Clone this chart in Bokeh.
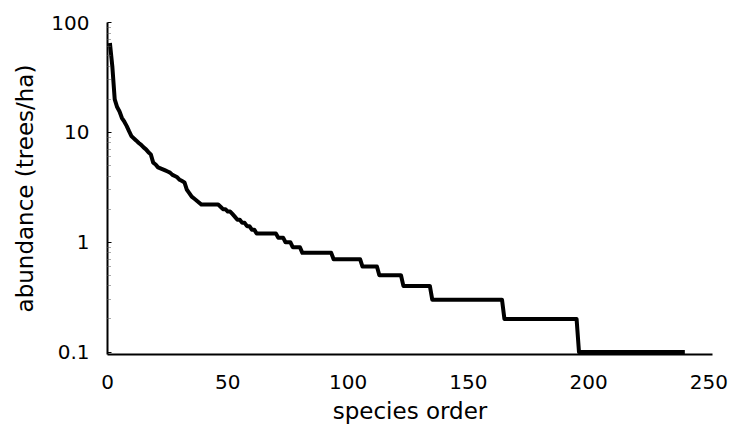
import numpy as np
from bokeh.plotting import figure
from bokeh.models import FixedTicker, CustomJSTickFormatter, Range1d
from bokeh.embed import file_html
from bokeh.resources import INLINE

# Rank-abundance data: runs of tied abundance (trees/ha), by first species rank of each run
run_start = [1, 2, 3, 4, 5, 6, 7, 8, 9, 10, 11, 12, 13, 14, 15, 16, 17, 18, 19, 20,
             21, 22, 23, 24, 25, 26, 27, 28, 29, 30, 31, 32, 33, 34, 35, 36, 37, 38, 39,
             47, 48, 50, 52, 53, 54, 56, 58, 60, 62, 71, 74, 77, 81, 94, 106, 113, 123,
             135, 165, 196]
run_value = [65, 40, 20, 17, 15.5, 13.5, 12.5, 11.4, 10.2, 9.2,
             8.8, 8.4, 8.0, 7.7, 7.3, 7.0, 6.6, 6.3, 5.3, 5.1,
             4.8, 4.7, 4.6, 4.5, 4.4, 4.3, 4.1, 4.0, 3.9, 3.7,
             3.6, 3.5, 3.0, 2.8, 2.6, 2.5, 2.4, 2.3, 2.2,
             2.1, 2.0, 1.9, 1.8, 1.7, 1.6, 1.5, 1.4, 1.3, 1.2,
             1.1, 1.0, 0.9, 0.8, 0.7, 0.6, 0.5, 0.4, 0.3, 0.2, 0.1]
last_rank = 240

x_ticks = [0, 50, 100, 150, 200, 250]
y_ticks = [0.1, 1, 10, 100]
y_minor = [0.2, 0.3, 0.4, 0.5, 0.6, 0.7, 0.8, 0.9, 2, 3, 4, 5, 6, 7, 8, 9,
           20, 30, 40, 50, 60, 70, 80, 90]

# expand runs to one value per species rank
starts = np.array(run_start)
ends = np.append(starts[1:], last_rank + 1)
ranks = np.arange(1, last_rank + 1)
abund = np.repeat(np.array(run_value, dtype=float), ends - starts)

FONT = "DejaVu Sans"

p = figure(width=732, height=437, y_axis_type="log",
           x_range=Range1d(0, 251.5), y_range=Range1d(0.095, 100),
           output_backend="svg", toolbar_location=None,
           min_border_left=107, min_border_right=20,
           min_border_top=22, min_border_bottom=83)
p.outline_line_color = None
p.xgrid.visible = False
p.ygrid.visible = False
p.background_fill_color = "white"
p.border_fill_color = "white"

p.line(ranks, abund, line_color="black", line_width=4, line_join="round")

# x axis
p.xaxis.ticker = FixedTicker(ticks=x_ticks)
p.xaxis.major_tick_in = 0
p.xaxis.major_tick_out = 0
p.xaxis.minor_tick_in = 0
p.xaxis.minor_tick_out = 0
p.xaxis.axis_label = "species order"

# y axis
p.yaxis.ticker = FixedTicker(ticks=y_ticks, minor_ticks=y_minor)
p.yaxis.formatter = CustomJSTickFormatter(code="return String(tick);")
p.yaxis.major_tick_in = 4
p.yaxis.major_tick_out = 0
p.yaxis.minor_tick_in = 3
p.yaxis.minor_tick_out = 0
p.yaxis.minor_tick_line_color = "#555555"
p.yaxis.minor_tick_line_dash = "1 1"
p.yaxis.axis_label = "abundance (trees/ha)"

for ax in (p.xaxis, p.yaxis):
    ax.axis_line_color = "black"
    ax.axis_line_width = 2
    ax.major_tick_line_color = "black"
    ax.major_label_text_font = FONT
    ax.major_label_text_font_size = "20px"
    ax.major_label_text_color = "black"
    ax.axis_label_text_font = FONT
    ax.axis_label_text_font_size = "23px"
    ax.axis_label_text_font_style = "normal"
    ax.axis_label_text_color = "black"

p.xaxis.major_label_standoff = 20
p.xaxis.axis_label_standoff = 6
p.yaxis.major_label_standoff = 18
p.yaxis.axis_label_standoff = 10

open("out.html", "w").write(file_html(p, INLINE))
